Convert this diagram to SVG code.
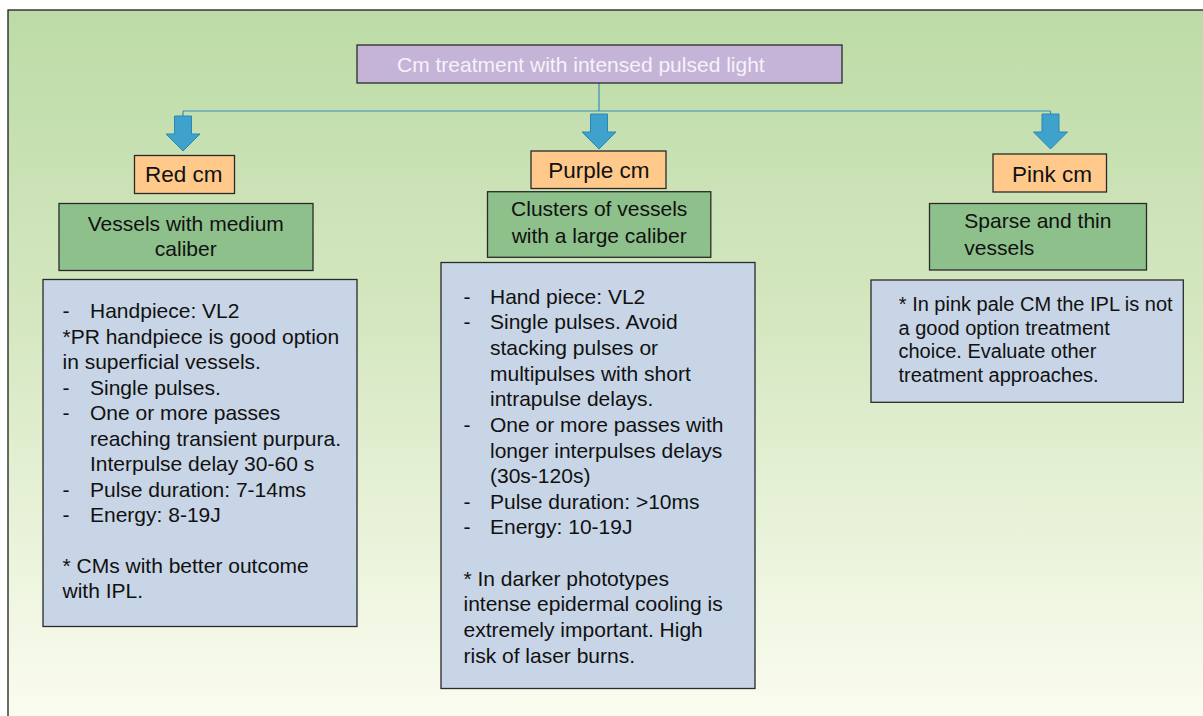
<svg xmlns="http://www.w3.org/2000/svg" width="1203" height="716" viewBox="0 0 1203 716">
  <defs>
    <linearGradient id="bg" x1="0" y1="0" x2="0" y2="1">
      <stop offset="0" stop-color="#bcdba6"/>
      <stop offset="0.45" stop-color="#d6e8c2"/>
      <stop offset="1" stop-color="#fcfdf1"/>
    </linearGradient>
    <path id="arrow" d="M -8.5 0 H 8.5 V 18 H 17 L 0 35 L -17 18 H -8.5 Z"/>
  </defs>
  <style>
    text { font-family: "Liberation Sans", Arial, sans-serif; fill: #111; }
    .t { font-size: 21px; }
    .lbl { font-size: 22.5px; }
    .sm { font-size: 20px; }
    .title { fill: #c5b4d7; stroke: #2a2a2a; stroke-width: 1.3; }
    .orange { fill: #fec98a; stroke: #2a2a2a; stroke-width: 1.3; }
    .green { fill: #8dc08a; stroke: #2a2a2a; stroke-width: 1.3; }
    .blue { fill: #c8d5e6; stroke: #2a2a2a; stroke-width: 1.3; }
    .line { stroke: #3a8db5; stroke-width: 1.2; fill: none; }
    .arr { fill: #3ea2cd; stroke: #2c87b0; stroke-width: 1; }
  </style>

  <rect x="8" y="10" width="1220" height="720" fill="url(#bg)" stroke="#1e1e1e" stroke-width="1.3"/>

  <g id="connectors">
    <path class="line" d="M 599 83 V 111 M 183 111 H 1050.5 M 183 111 V 116 M 1050.5 111 V 114"/>
    <use href="#arrow" class="arr" x="183" y="116"/>
    <use href="#arrow" class="arr" x="599" y="114"/>
    <use href="#arrow" class="arr" x="1050.5" y="114"/>
  </g>

  <g id="title">
    <rect class="title" x="357" y="45" width="485" height="38"/>
    <text class="t" x="397" y="72" style="fill:#f6f2fa">Cm treatment with intensed pulsed light</text>
  </g>

  <g id="red-cm">
    <rect class="orange" x="134.5" y="155.5" width="100" height="38"/>
    <text class="lbl" x="145" y="181.7">Red cm</text>
  </g>
  <g id="purple-cm">
    <rect class="orange" x="531" y="151" width="135" height="37.5"/>
    <text class="lbl" x="548.3" y="178">Purple cm</text>
  </g>
  <g id="pink-cm">
    <rect class="orange" x="993" y="154" width="113.5" height="38"/>
    <text class="lbl" x="1012" y="181.7">Pink cm</text>
  </g>

  <g id="red-vessels">
    <rect class="green" x="59" y="203.5" width="254" height="67"/>
    <text class="t" x="185.8" y="230.7" text-anchor="middle">Vessels with medium</text>
    <text class="t" x="185.8" y="256" text-anchor="middle">caliber</text>
  </g>
  <g id="purple-vessels">
    <rect class="green" x="487.5" y="191.7" width="223.3" height="65.6"/>
    <text class="t" x="599.2" y="216" text-anchor="middle">Clusters of vessels</text>
    <text class="t" x="599.2" y="242.7" text-anchor="middle">with a large caliber</text>
  </g>
  <g id="pink-vessels">
    <rect class="green" x="929.5" y="203.5" width="217" height="66.5"/>
    <text class="t" x="964.3" y="228.3">Sparse and thin</text>
    <text class="t" x="964.3" y="255">vessels</text>
  </g>

  <g id="red-details">
    <rect class="blue" x="43" y="279.5" width="314" height="347"/>
    <text class="t" x="62.5" y="318.3">-</text>
    <text class="t" x="90" y="318.3">Handpiece: VL2</text>
    <text class="t" x="62.5" y="343.8">*PR handpiece is good option</text>
    <text class="t" x="62.5" y="369.2">in superficial vessels.</text>
    <text class="t" x="62.5" y="394.7">-</text>
    <text class="t" x="90" y="394.7">Single pulses.</text>
    <text class="t" x="62.5" y="420.1">-</text>
    <text class="t" x="90" y="420.1">One or more passes</text>
    <text class="t" x="90" y="445.6">reaching transient purpura.</text>
    <text class="t" x="90" y="471">Interpulse delay 30-60 s</text>
    <text class="t" x="62.5" y="496.5">-</text>
    <text class="t" x="90" y="496.5">Pulse duration: 7-14ms</text>
    <text class="t" x="62.5" y="521.9">-</text>
    <text class="t" x="90" y="521.9">Energy: 8-19J</text>
    <text class="t" x="62.5" y="572.8">* CMs with better outcome</text>
    <text class="t" x="62.5" y="598.3">with IPL.</text>
  </g>

  <g id="purple-details">
    <rect class="blue" x="441" y="262.5" width="314" height="426"/>
    <text class="t" x="463.5" y="303.5">-</text>
    <text class="t" x="490" y="303.5">Hand piece: VL2</text>
    <text class="t" x="463.5" y="329.2">-</text>
    <text class="t" x="490" y="329.2">Single pulses. Avoid</text>
    <text class="t" x="490" y="354.8">stacking pulses or</text>
    <text class="t" x="490" y="380.5">multipulses with short</text>
    <text class="t" x="490" y="406.1">intrapulse delays.</text>
    <text class="t" x="463.5" y="431.8">-</text>
    <text class="t" x="490" y="431.8">One or more passes with</text>
    <text class="t" x="490" y="457.5">longer interpulses delays</text>
    <text class="t" x="490" y="483.1">(30s-120s)</text>
    <text class="t" x="463.5" y="508.8">-</text>
    <text class="t" x="490" y="508.8">Pulse duration: &gt;10ms</text>
    <text class="t" x="463.5" y="534.4">-</text>
    <text class="t" x="490" y="534.4">Energy: 10-19J</text>
    <text class="t" x="463.5" y="585.8">* In darker phototypes</text>
    <text class="t" x="463.5" y="611.4">intense epidermal cooling is</text>
    <text class="t" x="463.5" y="637.1">extremely important. High</text>
    <text class="t" x="463.5" y="662.7">risk of laser burns.</text>
  </g>

  <g id="pink-details">
    <rect class="blue" x="871" y="280" width="312.3" height="122.3"/>
    <text class="sm" x="898.8" y="311">* In pink pale CM the IPL is not</text>
    <text class="sm" x="898.5" y="334.5">a good option treatment</text>
    <text class="sm" x="898.5" y="358">choice. Evaluate other</text>
    <text class="sm" x="898.5" y="381.5">treatment approaches.</text>
  </g>
</svg>
